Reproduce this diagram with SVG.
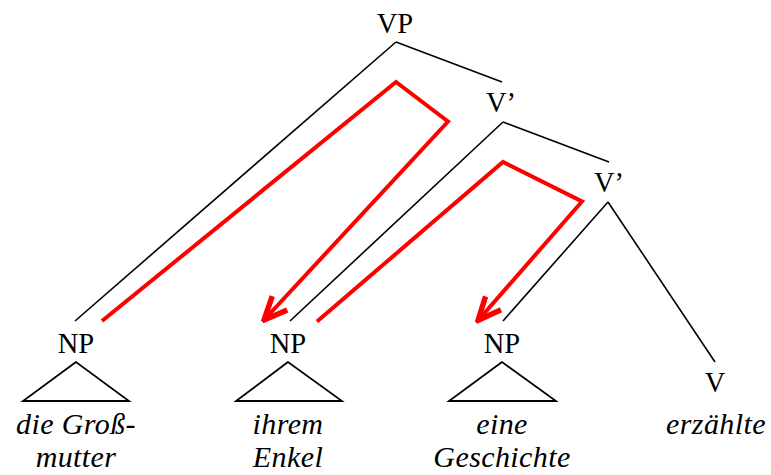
<svg xmlns="http://www.w3.org/2000/svg" width="771" height="475" viewBox="0 0 771 475">
<defs>
<style>
.lbl{font-family:"Liberation Serif","Times New Roman",serif;font-size:28.5px;fill:#000;text-anchor:middle}
.it{font-family:"Liberation Serif","Times New Roman",serif;font-size:30px;font-style:italic;fill:#000;text-anchor:middle;letter-spacing:0.4px}
.edge{stroke:#000;stroke-width:1.6;fill:none}
.tri{stroke:#000;stroke-width:1.8;fill:none;stroke-linejoin:miter}
.mv{stroke:#ff0000;stroke-width:4;fill:none;stroke-linejoin:miter}
</style>
<marker id="ah" markerUnits="userSpaceOnUse" markerWidth="30" markerHeight="30" refX="0" refY="0" viewBox="-20 -10 22 20" orient="auto">
<polyline points="-17,-7.5 0,0 -17,7.5" fill="none" stroke="#ff0000" stroke-width="4" stroke-linejoin="miter"/>
</marker>
</defs>
<rect width="771" height="475" fill="#fff"/>
<g id="connectors">
<line class="edge" x1="396" y1="42" x2="75" y2="321"/>
<line class="edge" x1="396" y1="42" x2="502" y2="82"/>
<line class="edge" x1="503" y1="122" x2="290" y2="321"/>
<line class="edge" x1="503" y1="122" x2="609" y2="162"/>
<line class="edge" x1="608" y1="202" x2="503" y2="321"/>
<line class="edge" x1="608" y1="202" x2="715" y2="362"/>
<polyline class="mv" points="102,321 396,82 448,121.5 264,320" marker-end="url(#ah)"/>
<polyline class="mv" points="317,321.5 503,162 582,201.5 478,320.5" marker-end="url(#ah)"/>
</g>
<g id="VP"><text class="lbl" x="395" y="33">VP</text></g>
<g id="Vbar1"><text class="lbl" x="501" y="112">V’</text></g>
<g id="Vbar2"><text class="lbl" x="609" y="192">V’</text></g>
<g id="NP1">
<text class="lbl" x="76" y="353">NP</text>
<polygon class="tri" points="76,362 23,401 129,401"/>
<text class="it" x="76" y="434">die Groß-</text>
<text class="it" x="76" y="467">mutter</text>
</g>
<g id="NP2">
<text class="lbl" x="288" y="353">NP</text>
<polygon class="tri" points="288,362 236,401 342,401"/>
<text class="it" x="288" y="434">ihrem</text>
<text class="it" x="288" y="467">Enkel</text>
</g>
<g id="NP3">
<text class="lbl" x="502" y="353">NP</text>
<polygon class="tri" points="502,362 449,401 556,401"/>
<text class="it" x="502" y="434">eine</text>
<text class="it" x="502" y="467">Geschichte</text>
</g>
<g id="V">
<text class="lbl" x="715" y="392">V</text>
<text class="it" x="716" y="434">erzählte</text>
</g>
</svg>
